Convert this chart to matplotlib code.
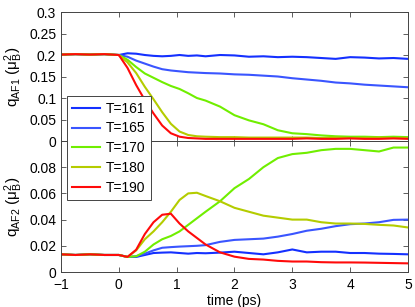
import numpy as np
import matplotlib
matplotlib.use('Agg')
import matplotlib.pyplot as plt
from matplotlib.ticker import FormatStrFormatter

plt.rcParams['font.family'] = ['Liberation Sans', 'DejaVu Sans']
plt.rcParams['mathtext.fontset'] = 'custom'
plt.rcParams['mathtext.rm'] = 'Liberation Sans'
plt.rcParams['mathtext.it'] = 'Liberation Sans:italic'
plt.rcParams['mathtext.bf'] = 'Liberation Sans:bold'

# time grid (ps)
time = [-1, -0.75, -0.5, -0.25, 0, 0.15, 0.3, 0.45, 0.6, 0.75, 0.9, 1.05, 1.2, 1.35,
        1.5, 1.75, 2.0, 2.25, 2.5, 2.75, 3.0, 3.25, 3.5, 3.75, 4.0, 4.25, 4.5, 4.75, 5.0]

labels = ['T=161', 'T=165', 'T=170', 'T=180', 'T=190']
colors = ['#1430ff', '#3a55ff', '#70ee00', '#b4cc00', '#ff0a0a']

pre_af1 = [0.201, 0.202, 0.201, 0.202, 0.200]
pre_af2 = [0.0135, 0.013, 0.0135, 0.013, 0.013]

# q_AF1 after t=0
af1_161 = [0.204, 0.203, 0.200, 0.198, 0.197, 0.198, 0.200, 0.198, 0.199, 0.197, 0.200,
           0.199, 0.196, 0.197, 0.195, 0.196, 0.195, 0.193, 0.191, 0.195, 0.194, 0.192, 0.193, 0.191]
af1_165 = [0.196, 0.187, 0.180, 0.173, 0.167, 0.164, 0.162, 0.160, 0.159, 0.158, 0.157,
           0.155, 0.154, 0.152, 0.150, 0.146, 0.143, 0.140, 0.136, 0.134, 0.131, 0.129, 0.127, 0.125]
af1_170 = [0.189, 0.172, 0.157, 0.147, 0.137, 0.128, 0.121, 0.111, 0.100, 0.094, 0.080,
           0.060, 0.048, 0.039, 0.025, 0.018, 0.016, 0.013, 0.011, 0.010, 0.010, 0.009, 0.010, 0.009]
af1_180 = [0.183, 0.158, 0.126, 0.097, 0.067, 0.040, 0.022, 0.014, 0.011, 0.010, 0.009,
           0.009, 0.008, 0.008, 0.008, 0.008, 0.008, 0.007, 0.008, 0.007, 0.007, 0.008, 0.007, 0.007]
af1_190 = [0.170, 0.130, 0.095, 0.064, 0.036, 0.018, 0.010, 0.007, 0.006, 0.005, 0.005,
           0.005, 0.005, 0.005, 0.005, 0.005, 0.006, 0.005, 0.005, 0.006, 0.005, 0.005, 0.006, 0.005]

# q_AF2 after t=0
af2_161 = [0.0115, 0.0115, 0.013, 0.0145, 0.0148, 0.015, 0.0145, 0.014, 0.0145, 0.0143, 0.0148,
           0.0155, 0.0145, 0.0135, 0.015, 0.0172, 0.015, 0.0155, 0.0155, 0.0145, 0.0145, 0.014, 0.0138, 0.0135]
af2_165 = [0.0115, 0.012, 0.014, 0.0165, 0.0185, 0.019, 0.0194, 0.0197, 0.020, 0.0205, 0.023,
           0.0245, 0.025, 0.0255, 0.027, 0.029, 0.0315, 0.033, 0.035, 0.0365, 0.037, 0.038, 0.0398, 0.040]
af2_170 = [0.0115, 0.012, 0.0155, 0.021, 0.025, 0.0275, 0.031, 0.036, 0.041, 0.046, 0.054,
           0.064, 0.071, 0.080, 0.087, 0.090, 0.091, 0.093, 0.094, 0.094, 0.093, 0.092, 0.095, 0.095]
af2_180 = [0.0115, 0.0165, 0.025, 0.031, 0.038, 0.046, 0.055, 0.060, 0.0605, 0.058, 0.054,
           0.049, 0.046, 0.043, 0.0415, 0.040, 0.040, 0.038, 0.037, 0.037, 0.0367, 0.036, 0.0355, 0.034]
af2_190 = [0.0115, 0.017, 0.029, 0.038, 0.0437, 0.0445, 0.037, 0.031, 0.026, 0.021, 0.015,
           0.0117, 0.010, 0.0095, 0.0085, 0.008, 0.008, 0.0075, 0.0073, 0.0073, 0.0072, 0.007, 0.0068, 0.0066]

af1 = [af1_161, af1_165, af1_170, af1_180, af1_190]
af2 = [af2_161, af2_165, af2_170, af2_180, af2_190]

fig = plt.figure(figsize=(4.15, 3.07), dpi=100)
ax1 = fig.add_axes([0.147, 0.5407, 0.836, 0.4202])
ax2 = fig.add_axes([0.147, 0.114, 0.836, 0.4267])

for i in range(5):
    ax1.plot(time, pre_af1 + af1[i], color=colors[i], lw=1.5, label=labels[i])
    ax2.plot(time, pre_af2 + af2[i], color=colors[i], lw=1.5)

edge = '#444444'
for ax in (ax1, ax2):
    ax.set_xlim(-1, 5)
    ax.set_xticks(range(-1, 6))
    ax.tick_params(direction='in', top=True, right=True, labelsize=10, length=3.5,
                   color=edge, width=0.6)
    for s in ax.spines.values():
        s.set_color(edge)
        s.set_linewidth(0.7)
ax2.tick_params(axis='x', pad=4.5)

ax1.set_ylim(0, 0.3)
ax1.set_yticks(np.arange(0, 0.301, 0.05))
ax1.yaxis.set_major_formatter(FormatStrFormatter('%g'))
ax1.set_xticklabels([])
ax1.set_ylabel('q$_{\\rm AF1}$ (μ$_{\\rm B}^{2}$)', fontsize=11, labelpad=3)

ax2.set_ylim(0, 0.1)
ax2.set_yticks([0, 0.02, 0.04, 0.06, 0.08])
ax2.yaxis.set_major_formatter(FormatStrFormatter('%g'))
ax2.set_xlabel('time (ps)', fontsize=10, labelpad=1)
ax2.set_ylabel('q$_{\\rm AF2}$ (μ$_{\\rm B}^{2}$)', fontsize=11, labelpad=3)

leg = ax1.legend(loc='upper left', bbox_to_anchor=(0.017, 0.349), borderaxespad=0,
                 fontsize=10, handlelength=2.0, labelspacing=0.42, handletextpad=0.4,
                 borderpad=0.4, fancybox=False, framealpha=1, edgecolor=edge)
leg.get_frame().set_linewidth(0.7)
leg.set_zorder(10)
ax1.set_zorder(3)

fig.savefig('out.png', dpi=100)
